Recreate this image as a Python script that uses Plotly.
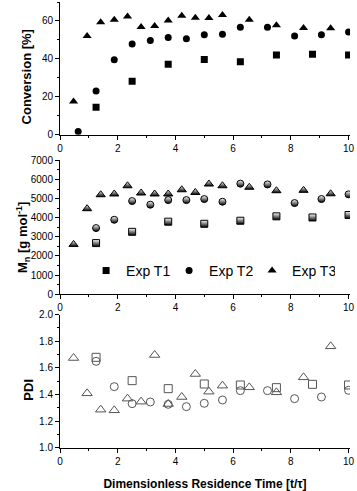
import plotly.graph_objects as go
from plotly.subplots import make_subplots

# residence times for each experiment
t1_x = [1.25, 2.5, 3.75, 5.0, 6.25, 7.5, 8.75, 10.0]
t2_x = [0.63, 1.25, 1.88, 2.5, 3.13, 3.75, 4.38, 5.0, 5.63, 6.25, 7.19, 8.13, 9.06, 10.0]
t3_x = [0.47, 0.94, 1.41, 1.88, 2.34, 2.81, 3.28, 3.75, 4.22, 4.69, 5.16, 5.63,
        6.56, 7.5, 8.44, 9.38]

# conversion [%]
t1_conv = [14.5, 28.2, 37.1, 39.7, 38.5, 42.0, 42.5, 42.0]
t2_conv = [1.7, 23.1, 39.5, 47.8, 49.7, 51.3, 50.6, 52.7, 53.0, 56.7, 56.7, 52.1, 52.7, 54.2]
t3_conv = [17.5, 52.0, 59.3, 60.7, 62.4, 56.8, 57.4, 60.3, 62.8, 61.7, 61.6, 63.1,
           60.7, 57.7, 56.3, 56.1]

# Mn [g/mol]
t1_mn = [2670, 3260, 3790, 3680, 3840, 4070, 4010, 4140]
t2_mn = [3456, 3890, 4870, 4680, 4920, 4920, 4975, 4835, 5780, 5740, 4765, 4975, 5220]
t2_mn_x = t2_x[1:]
t3_mn = [2600, 4470, 5200, 5240, 5670, 5290, 5240, 5240, 5460, 5320, 5760, 5670,
         5590, 5410, 5430, 5250]

# PDI
t1_pdi = [1.68, 1.505, 1.445, 1.48, 1.4725, 1.4525, 1.4775, 1.4725]
t2_pdi = [1.65, 1.46, 1.3325, 1.345, 1.3275, 1.31, 1.335, 1.36, 1.43, 1.43, 1.37, 1.3825, 1.4325]
t2_pdi_x = t2_x[1:]
t3_pdi = [1.675, 1.41, 1.2875, 1.2825, 1.37, 1.3475, 1.6975, 1.33, 1.3825, 1.555, 1.4225,
          1.4675, 1.455, 1.4175, 1.53, 1.7625]

names = ["Exp T1", "Exp T2", "Exp T3"]
symbols = ["square", "circle", "triangle-up"]
sizes = [7, 7, 8]

fig = make_subplots(rows=3, cols=1, vertical_spacing=0.05)

conv = [(t1_x, t1_conv), (t2_x, t2_conv), (t3_x, t3_conv)]
mn = [(t1_x, t1_mn), (t2_mn_x, t2_mn), (t3_x, t3_mn)]
pdi = [(t1_x, t1_pdi), (t2_pdi_x, t2_pdi), (t3_x, t3_pdi)]

for i in range(3):
    fig.add_trace(go.Scatter(
        x=conv[i][0], y=conv[i][1], mode="markers", name=names[i],
        marker=dict(symbol=symbols[i], size=sizes[i], color="black"),
        showlegend=True), row=1, col=1)
    fig.add_trace(go.Scatter(
        x=mn[i][0], y=mn[i][1], mode="markers", name=names[i],
        marker=dict(symbol=symbols[i], size=sizes[i], color="white",
                    gradient=dict(type="vertical", color="black"),
                    line=dict(color="black", width=1)),
        showlegend=False), row=2, col=1)
    fig.add_trace(go.Scatter(
        x=pdi[i][0], y=pdi[i][1], mode="markers", name=names[i],
        marker=dict(symbol=symbols[i] + "-open", size=sizes[i] + 1, color="#555555",
                    line=dict(width=1)),
        showlegend=False), row=3, col=1)

axis_common = dict(
    showline=True, linecolor="black", linewidth=1, ticks="outside", ticklen=4,
    tickcolor="black", showgrid=False, zeroline=False, automargin=False,
    tickfont=dict(family="Arial", size=10, color="black"),
    minor=dict(ticks="outside", ticklen=2, tickcolor="black"),
)

for r, dom in zip([1, 2, 3], [[0.7025, 1.0], [0.345, 0.645], [0.0, 0.299]]):
    fig.update_xaxes(range=[0, 10.05], dtick=2, minor_dtick=1, row=r, col=1, **axis_common)
    fig.update_yaxes(domain=dom, row=r, col=1, **axis_common)

fig.update_yaxes(range=[0, 70], dtick=20, minor_dtick=10, row=1, col=1)
fig.update_yaxes(range=[0, 7000], dtick=1000, minor_dtick=500, row=2, col=1)
fig.update_yaxes(range=[1.0, 2.0], dtick=0.2, minor_dtick=0.1, tickformat=".1f", row=3, col=1)
fig.update_xaxes(row=3, col=1,
                 title=dict(text="<b>Dimensionless Residence Time [t/τ]</b>",
                            font=dict(family="Arial", size=12, color="black")))

# y titles as annotations (they sit a bit below the axis centres in the original)
title_font = dict(family="Arial", size=13, color="black")
y_titles = ["<b>Conversion [%]</b>", "<b>M<sub>n</sub> [g mol<sup>-1</sup>]</b>", "<b>PDI</b>"]
y_title_pos = [(-0.117, 0.831), (-0.13, 0.4715), (-0.11, 0.131)]
for txt, (ax, ay) in zip(y_titles, y_title_pos):
    fig.add_annotation(text=txt, xref="paper", yref="paper", x=ax, y=ay,
                       xanchor="center", yanchor="middle", textangle=-90,
                       showarrow=False, font=title_font)

fig.update_layout(
    width=357, height=491,
    margin=dict(l=60, r=7, t=2, b=43),
    plot_bgcolor="white", paper_bgcolor="white",
    legend=dict(orientation="h", x=0.09, y=0.397, xanchor="left", yanchor="middle",
                font=dict(family="Arial", size=14, color="black"),
                bgcolor="rgba(0,0,0,0)", entrywidth=38, entrywidthmode="pixels"),
)

# drop the page's default body margin so the figure sits at the window corner
fig.write_html("out.html", config={"displayModeBar": False},
               post_script="document.body.style.margin='0';")
